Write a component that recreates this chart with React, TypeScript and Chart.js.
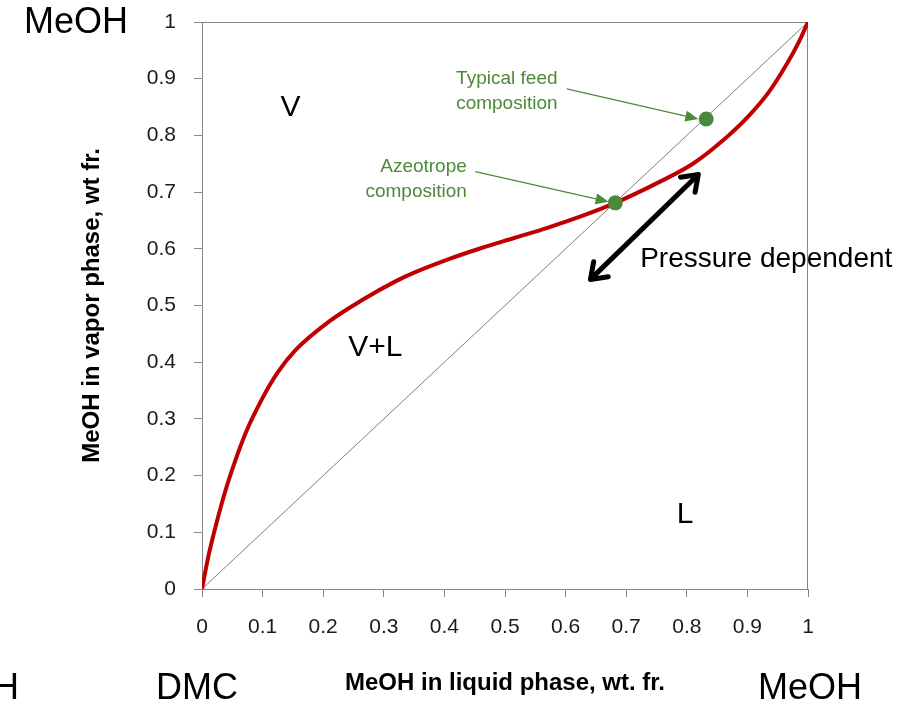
import React, { useEffect, useRef } from "react";
import { Chart, registerables } from "chart.js";

Chart.register(...registerables);

// Equilibrium curve: MeOH in liquid (x) vs MeOH in vapor (y), wt. fr.
const liquidMeOH = [0, 0.01, 0.02, 0.035, 0.045, 0.07, 0.1, 0.125, 0.155, 0.21, 0.265, 0.32, 0.35, 0.405, 0.46, 0.515, 0.57, 0.625, 0.68, 0.755, 0.81, 0.855, 0.9, 0.935, 0.965, 0.985, 1];
const vaporMeOH = [0, 0.055, 0.1, 0.16, 0.195, 0.27, 0.337, 0.382, 0.422, 0.472, 0.51, 0.543, 0.558, 0.581, 0.601, 0.619, 0.637, 0.657, 0.68, 0.718, 0.75, 0.787, 0.832, 0.876, 0.926, 0.965, 1];

// y = x diagonal
const diagonalX = [0, 1];
const diagonalY = [0, 1];

// Highlighted compositions
const pointNames = ["Azeotrope composition", "Typical feed composition"];
const pointX = [0.682, 0.832];
const pointY = [0.681, 0.829];

// Axis ticks
const tickValues = [0, 0.1, 0.2, 0.3, 0.4, 0.5, 0.6, 0.7, 0.8, 0.9, 1];
const tickLabels = ["0", "0.1", "0.2", "0.3", "0.4", "0.5", "0.6", "0.7", "0.8", "0.9", "1"];

// Region labels (data coordinates)
const regionText = ["V", "V+L", "L"];
const regionX = [0.146, 0.286, 0.797];
const regionY = [0.849, 0.426, 0.131];

const FONT = "'Liberation Sans', Arial, sans-serif";
const GREEN = "#4b8a3b";
const RED = "#c00000";
const AXIS_GREY = "#868686";

function arrowFilled(ctx: CanvasRenderingContext2D, x0: number, y0: number, x1: number, y1: number, color: string) {
  const ang = Math.atan2(y1 - y0, x1 - x0);
  const headLen = 13;
  const headW = 5.5;
  const bx = x1 - headLen * Math.cos(ang);
  const by = y1 - headLen * Math.sin(ang);
  ctx.strokeStyle = color;
  ctx.lineWidth = 1.3;
  ctx.beginPath();
  ctx.moveTo(x0, y0);
  ctx.lineTo(bx, by);
  ctx.stroke();
  ctx.fillStyle = color;
  ctx.beginPath();
  ctx.moveTo(x1, y1);
  ctx.lineTo(bx + headW * Math.sin(ang), by - headW * Math.cos(ang));
  ctx.lineTo(bx - headW * Math.sin(ang), by + headW * Math.cos(ang));
  ctx.closePath();
  ctx.fill();
}

function chevron(ctx: CanvasRenderingContext2D, tipX: number, tipY: number, ang: number) {
  const len = 18;
  const spread = 0.62;
  ctx.beginPath();
  ctx.moveTo(tipX - len * Math.cos(ang - spread), tipY - len * Math.sin(ang - spread));
  ctx.lineTo(tipX, tipY);
  ctx.lineTo(tipX - len * Math.cos(ang + spread), tipY - len * Math.sin(ang + spread));
  ctx.stroke();
}

const overlayPlugin = {
  id: "overlay",
  beforeDatasetsDraw(chart: any) {
    const { ctx, chartArea } = chart;
    ctx.save();
    ctx.strokeStyle = AXIS_GREY;
    ctx.lineWidth = 1;
    ctx.beginPath();
    ctx.moveTo(chartArea.left, chartArea.top + 0.5);
    ctx.lineTo(chartArea.right - 0.5, chartArea.top + 0.5);
    ctx.lineTo(chartArea.right - 0.5, chartArea.bottom);
    ctx.stroke();
    ctx.restore();
  },
  afterDatasetsDraw(chart: any) {
    const { ctx } = chart;
    const xs = chart.scales.x;
    const ys = chart.scales.y;
    const px = (v: number) => xs.getPixelForValue(v);
    const py = (v: number) => ys.getPixelForValue(v);
    ctx.save();

    // Region labels
    ctx.fillStyle = "#000";
    ctx.textAlign = "center";
    ctx.textBaseline = "middle";
    ctx.font = `30px ${FONT}`;
    regionText.forEach((t, i) => ctx.fillText(t, px(regionX[i]), py(regionY[i])));

    // Green annotations
    ctx.fillStyle = GREEN;
    ctx.font = `19px ${FONT}`;
    ctx.textAlign = "right";
    ctx.fillText("Azeotrope", px(0.437), py(0.745));
    ctx.fillText("composition", px(0.437), py(0.701));
    ctx.textAlign = "center";
    ctx.fillText("Typical feed", px(0.503), py(0.9));
    ctx.fillText("composition", px(0.503), py(0.856));

    arrowFilled(ctx, px(0.451), py(0.736), px(0.671), py(0.683), GREEN);
    arrowFilled(ctx, px(0.602), py(0.882), px(0.819), py(0.829), GREEN);

    // Pressure dependent double arrow
    const ax0 = px(0.641), ay0 = py(0.546), ax1 = px(0.819), ay1 = py(0.731);
    ctx.strokeStyle = "#000";
    ctx.lineWidth = 5;
    ctx.lineCap = "round";
    ctx.lineJoin = "round";
    ctx.beginPath();
    ctx.moveTo(ax0 + 2, ay0 - 2);
    ctx.lineTo(ax1 - 2, ay1 + 2);
    ctx.stroke();
    const ang = Math.atan2(ay1 - ay0, ax1 - ax0);
    chevron(ctx, ax1, ay1, ang);
    chevron(ctx, ax0, ay0, ang + Math.PI);

    ctx.fillStyle = "#000";
    ctx.textAlign = "left";
    ctx.font = `28px ${FONT}`;
    ctx.fillText("Pressure dependent", px(0.723), py(0.581));

    // Corner component labels
    ctx.font = `36px ${FONT}`;
    ctx.textAlign = "right";
    ctx.fillText("MeOH", 128, 23);
    ctx.fillText("MeOH", 19, 689);
    ctx.textAlign = "center";
    ctx.fillText("DMC", 197, 689);
    ctx.fillText("MeOH", 810, 689);

    ctx.restore();
  },
};

export default function App() {
  const canvasRef = useRef<HTMLCanvasElement | null>(null);

  useEffect(() => {
    if (!canvasRef.current) return;
    const curve = liquidMeOH.map((x, i) => ({ x, y: vaporMeOH[i] }));
    const diag = diagonalX.map((x, i) => ({ x, y: diagonalY[i] }));
    const pts = pointX.map((x, i) => ({ x, y: pointY[i] }));

    const tickFont = { family: FONT, size: 21 };
    const chart = new Chart(canvasRef.current, {
      type: "scatter",
      data: {
        datasets: [
          {
            label: "Equilibrium",
            data: curve,
            showLine: true,
            borderColor: RED,
            borderWidth: 4,
            pointRadius: 0,
            cubicInterpolationMode: "monotone",
            order: 2,
          } as any,
          {
            label: "x = y",
            data: diag,
            showLine: true,
            borderColor: "#7f7f7f",
            borderWidth: 1,
            pointRadius: 0,
            order: 3,
          },
          {
            label: pointNames.join(" / "),
            data: pts,
            showLine: false,
            pointRadius: 7.5,
            pointBackgroundColor: GREEN,
            pointBorderColor: GREEN,
            pointBorderWidth: 0,
            order: 1,
          },
        ],
      },
      options: {
        animation: false,
        responsive: false,
        devicePixelRatio: 1,
        layout: { padding: { left: 0, top: 22, right: 100, bottom: 0 } },
        plugins: {
          legend: { display: false },
          tooltip: { enabled: false },
        },
        scales: {
          x: {
            type: "linear",
            min: 0,
            max: 1,
            afterBuildTicks: (scale: any) => {
              scale.ticks = tickValues.map((v) => ({ value: v }));
            },
            afterFit: (scale: any) => {
              scale.height = 115;
              scale.paddingLeft = 0;
              scale.paddingRight = 0;
            },
            ticks: {
              callback: (_v: any, i: number) => tickLabels[i],
              font: tickFont,
              color: "#1a1a1a",
              padding: 18,
              maxRotation: 0,
              autoSkip: false,
            },
            grid: { display: true, drawOnChartArea: false, drawTicks: true, tickLength: 8, color: AXIS_GREY },
            border: { display: true, color: AXIS_GREY, width: 1 },
            title: {
              display: true,
              text: "MeOH in liquid phase, wt. fr.",
              font: { family: FONT, size: 24, weight: "bold" },
              color: "#000",
              padding: { top: 0, bottom: 6 },
            },
          },
          y: {
            type: "linear",
            min: 0,
            max: 1,
            afterBuildTicks: (scale: any) => {
              scale.ticks = tickValues.map((v) => ({ value: v }));
            },
            afterFit: (scale: any) => {
              scale.width = 202;
              scale.paddingTop = 0;
              scale.paddingBottom = 0;
            },
            ticks: {
              callback: (_v: any, i: number) => tickLabels[i],
              font: tickFont,
              color: "#1a1a1a",
              padding: 18,
              autoSkip: false,
            },
            grid: { display: true, drawOnChartArea: false, drawTicks: true, tickLength: 8, color: AXIS_GREY },
            border: { display: true, color: AXIS_GREY, width: 1 },
            title: {
              display: true,
              text: "MeOH in vapor phase, wt fr.",
              font: { family: FONT, size: 24, weight: "bold" },
              color: "#000",
              padding: { top: 78, bottom: 0 },
            },
          },
        },
      },
      plugins: [overlayPlugin],
    });
    return () => chart.destroy();
  }, []);

  return (
    <div style={{ position: "fixed", left: 0, top: 0, width: 908, height: 704, background: "#fff" }}>
      <canvas ref={canvasRef} width={908} height={704} style={{ display: "block" }} />
    </div>
  );
}
